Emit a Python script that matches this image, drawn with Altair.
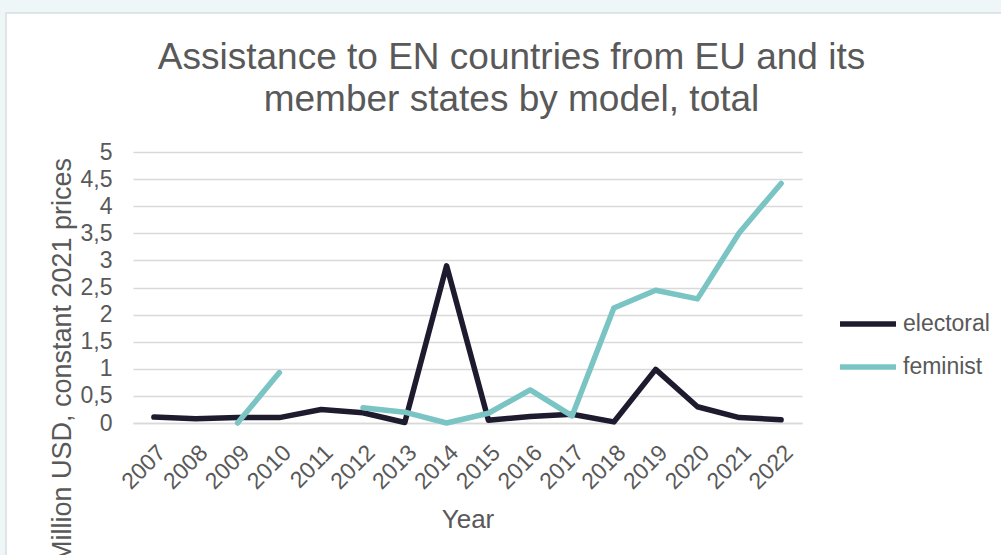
import altair as alt
import pandas as pd

years = [str(y) for y in range(2007, 2023)]
electoral = [0.11, 0.08, 0.10, 0.10, 0.25, 0.19, 0.01, 2.90, 0.05, 0.12, 0.16, 0.02, 0.99, 0.30, 0.10, 0.06]
feminist = [None, None, 0.00, 0.93, None, 0.28, 0.20, 0.00, 0.18, 0.61, 0.13, 2.12, 2.45, 2.29, 3.51, 4.42]
series_names = ["electoral", "feminist"]
series_colors = ["#1e1b2f", "#7bc4c4"]
y_ticks = [0, 0.5, 1, 1.5, 2, 2.5, 3, 3.5, 4, 4.5, 5]

rows = []
for name, vals in zip(series_names, [electoral, feminist]):
    for yr, v in zip(years, vals):
        rows.append({"Year": yr, "model": name, "value": v})
df = pd.DataFrame(rows)

FONT = "Liberation Sans"
TXT = "#595959"

one = pd.DataFrame({"a": [0]})
top_strip = alt.Chart(one).mark_rect(color="#eef6f8").encode(
    x=alt.value(-133), x2=alt.value(880), y=alt.value(-152), y2=alt.value(-139))
left_strip = alt.Chart(one).mark_rect(color="#eef6f8").encode(
    x=alt.value(-133), x2=alt.value(-127), y=alt.value(-139), y2=alt.value(420))
border = alt.Chart(one).mark_rect(fillOpacity=0, stroke="#d8dede", strokeWidth=1.5).encode(
    x=alt.value(-127), x2=alt.value(890), y=alt.value(-139), y2=alt.value(420))

lines = alt.Chart(df).mark_line(
    strokeWidth=5.5, strokeCap="round", strokeJoin="round",
    invalid="break-paths-show-domains"
).encode(
    x=alt.X("Year:O", sort=years, scale=alt.Scale(domain=years),
            axis=alt.Axis(title="Year", labelAngle=-45, labelFontSize=23,
                          labelColor=TXT, labelFont=FONT, labelPadding=18,
                          ticks=False, domainColor="#d9d9d9", domainWidth=1.5,
                          titleFontSize=26, titleColor=TXT, titleFont=FONT,
                          titleFontWeight="normal", titlePadding=13, grid=False)),
    y=alt.Y("value:Q", scale=alt.Scale(domain=[0, 5], nice=False),
            axis=alt.Axis(title="Million USD, constant 2021 prices", values=y_ticks,
                          labelExpr="replace(toString(datum.value), '.', ',')",
                          labelFontSize=23, labelColor=TXT, labelFont=FONT,
                          labelPadding=21, ticks=False, domain=False,
                          gridColor="#d9d9d9", gridWidth=1.5,
                          titleFontSize=27, titleColor=TXT, titleFont=FONT,
                          titleFontWeight="normal", titleAngle=270,
                          titleX=-63, titleY=208, titleAlign="center",
                          titleBaseline="alphabetic")),
    color=alt.Color("model:N", scale=alt.Scale(domain=series_names, range=series_colors),
                    legend=alt.Legend(title=None, orient="none", legendX=704, legendY=141,
                                      symbolType="stroke", symbolSize=3136,
                                      symbolStrokeWidth=5.5, labelFontSize=23,
                                      labelColor=TXT, labelFont=FONT, labelOffset=4,
                                      rowPadding=-13)),
)

chart = alt.layer(top_strip, left_strip, border, lines).properties(
    width=669, height=271,
    padding={"left": 133, "top": 152, "right": 199, "bottom": 132},
    autosize="none",
    background="white",
    title=alt.TitleParams(
        text=["Assistance to EN countries from EU and its", "member states by model, total"],
        fontSize=37, font=FONT, fontWeight="normal", color=TXT,
        anchor="middle", dx=44, offset=0, dy=119, lineHeight=42),
).configure_view(stroke=None)

chart.save("out.html", embed_options={"renderer": "svg", "actions": False})
